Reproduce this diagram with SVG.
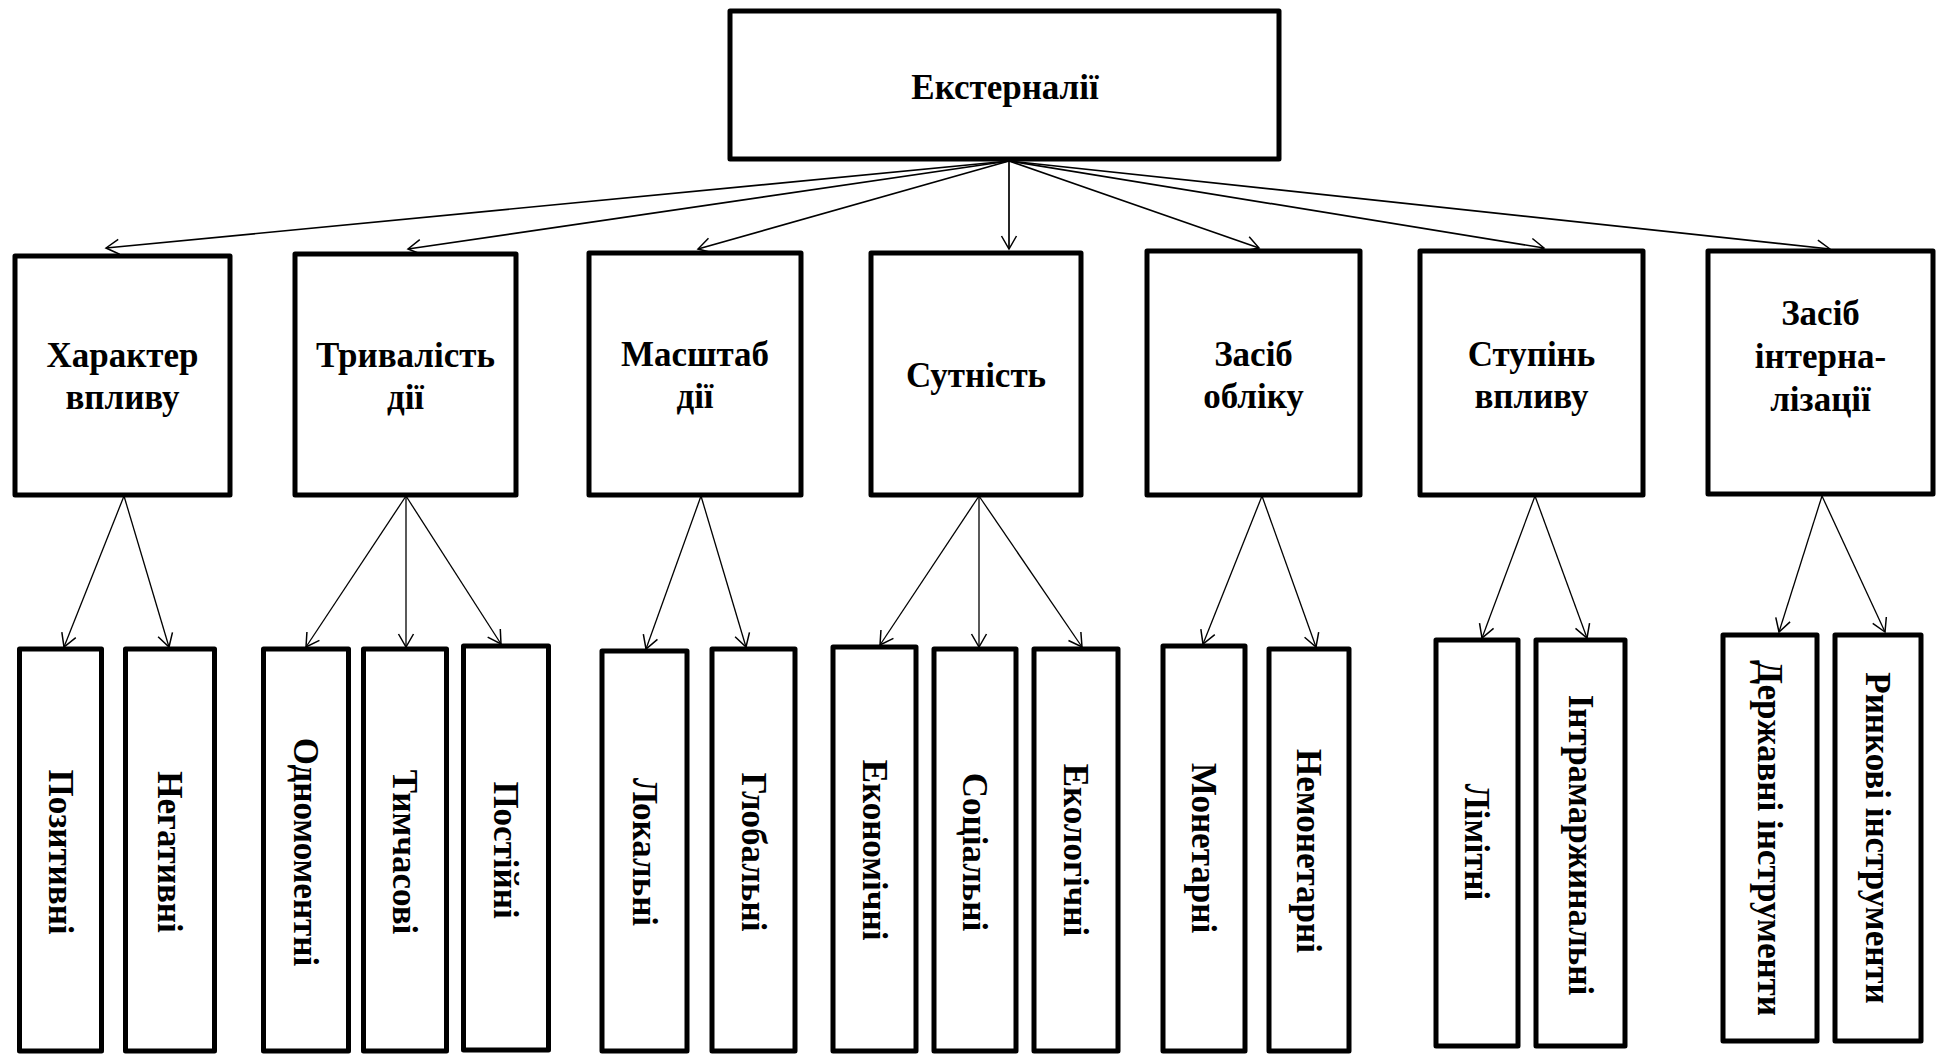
<svg xmlns="http://www.w3.org/2000/svg" width="1943" height="1055" viewBox="0 0 1943 1055">
<style>
.box{fill:#fff;stroke:#000;stroke-width:5;stroke-linejoin:round}
.t{font-family:"Liberation Serif","Times New Roman",serif;font-weight:bold;font-size:35px;text-anchor:middle;fill:#000}
.c1{stroke:#000;stroke-width:1.7;fill:none}
.c2{stroke:#000;stroke-width:1.3;fill:none}
</style>
<defs>
<marker id="ah" markerUnits="userSpaceOnUse" viewBox="-16 -10 18 20" markerWidth="18" markerHeight="20" refX="0" refY="0" orient="auto">
<path d="M-13,-7.5 L0,0 L-13,7.5" fill="none" stroke="#000" stroke-width="1.5"/>
</marker>
</defs>
<rect x="0" y="0" width="1943" height="1055" fill="#fff"/>

<g id="connectors">
<line class="c1" x1="1009" y1="161" x2="106" y2="248" marker-end="url(#ah)"/>
<line class="c1" x1="1009" y1="161" x2="408" y2="249" marker-end="url(#ah)"/>
<line class="c1" x1="1009" y1="161" x2="698" y2="249" marker-end="url(#ah)"/>
<line class="c1" x1="1009" y1="161" x2="1009" y2="249" marker-end="url(#ah)"/>
<line class="c1" x1="1009" y1="161" x2="1259" y2="248" marker-end="url(#ah)"/>
<line class="c1" x1="1009" y1="161" x2="1544" y2="248" marker-end="url(#ah)"/>
<line class="c1" x1="1009" y1="161" x2="1830" y2="249" marker-end="url(#ah)"/>

<line class="c2" x1="124" y1="496" x2="64" y2="647" marker-end="url(#ah)"/>
<line class="c2" x1="124" y1="496" x2="169" y2="647" marker-end="url(#ah)"/>

<line class="c2" x1="406" y1="496" x2="306" y2="647" marker-end="url(#ah)"/>
<line class="c2" x1="406" y1="496" x2="406" y2="647" marker-end="url(#ah)"/>
<line class="c2" x1="406" y1="496" x2="501" y2="644" marker-end="url(#ah)"/>

<line class="c2" x1="701" y1="496" x2="646" y2="649" marker-end="url(#ah)"/>
<line class="c2" x1="701" y1="496" x2="746" y2="647" marker-end="url(#ah)"/>

<line class="c2" x1="979" y1="496" x2="880" y2="645" marker-end="url(#ah)"/>
<line class="c2" x1="979" y1="496" x2="979" y2="647" marker-end="url(#ah)"/>
<line class="c2" x1="979" y1="496" x2="1082" y2="647" marker-end="url(#ah)"/>

<line class="c2" x1="1262" y1="496" x2="1203" y2="644" marker-end="url(#ah)"/>
<line class="c2" x1="1262" y1="496" x2="1316" y2="647" marker-end="url(#ah)"/>

<line class="c2" x1="1535" y1="496" x2="1482" y2="638" marker-end="url(#ah)"/>
<line class="c2" x1="1535" y1="496" x2="1587" y2="638" marker-end="url(#ah)"/>

<line class="c2" x1="1822" y1="496" x2="1779" y2="632" marker-end="url(#ah)"/>
<line class="c2" x1="1822" y1="496" x2="1885" y2="632" marker-end="url(#ah)"/>
</g>

<g id="n-root"><rect class="box" x="730" y="11" width="549" height="148"/><text class="t" x="1005" y="99">Екстерналії</text></g>

<g id="n-character"><rect class="box" x="15" y="256" width="215" height="239"/><text class="t" x="122.5" y="367">Характер</text><text class="t" x="122.5" y="409">впливу</text></g>
<g id="n-duration"><rect class="box" x="295" y="254" width="221" height="241"/><text class="t" x="405.5" y="367">Тривалість</text><text class="t" x="405.5" y="409">дії</text></g>
<g id="n-scale"><rect class="box" x="589" y="253" width="212" height="242"/><text class="t" x="695" y="366">Масштаб</text><text class="t" x="695" y="408">дії</text></g>
<g id="n-essence"><rect class="box" x="871" y="253" width="210" height="242"/><text class="t" x="976" y="387">Сутність</text></g>
<g id="n-accounting"><rect class="box" x="1147" y="251" width="213" height="244"/><text class="t" x="1253.5" y="366">Засіб</text><text class="t" x="1253.5" y="408">обліку</text></g>
<g id="n-degree"><rect class="box" x="1420" y="251" width="223" height="244"/><text class="t" x="1531.5" y="366">Ступінь</text><text class="t" x="1531.5" y="408">впливу</text></g>
<g id="n-internalization"><rect class="box" x="1708" y="251" width="225" height="243"/><text class="t" x="1820.5" y="325">Засіб</text><text class="t" x="1820.5" y="368">інтерна-</text><text class="t" x="1820.5" y="411">лізації</text></g>

<g id="n-positive"><rect class="box" x="19.5" y="649" width="82" height="402"/><text class="t" transform="translate(60.5,852) rotate(90)" x="0" y="12">Позитивні</text></g>
<g id="n-negative"><rect class="box" x="125.5" y="649" width="89" height="402"/><text class="t" transform="translate(170,852) rotate(90)" x="0" y="12">Негативні</text></g>
<g id="n-onetime"><rect class="box" x="263.5" y="649" width="85" height="402"/><text class="t" transform="translate(306,852) rotate(90)" x="0" y="12">Одномоментні</text></g>
<g id="n-temporary"><rect class="box" x="363.5" y="649" width="83" height="402"/><text class="t" transform="translate(405,852) rotate(90)" x="0" y="12">Тимчасові</text></g>
<g id="n-permanent"><rect class="box" x="463.5" y="646" width="85" height="404"/><text class="t" transform="translate(506,850) rotate(90)" x="0" y="12">Постійні</text></g>
<g id="n-local"><rect class="box" x="602" y="651" width="85" height="400"/><text class="t" transform="translate(644.5,852) rotate(90)" x="0" y="12">Локальні</text></g>
<g id="n-global"><rect class="box" x="712" y="649" width="83" height="402"/><text class="t" transform="translate(753.5,852) rotate(90)" x="0" y="12">Глобальні</text></g>
<g id="n-economic"><rect class="box" x="833" y="647" width="83" height="404"/><text class="t" transform="translate(874.5,850) rotate(90)" x="0" y="12">Економічні</text></g>
<g id="n-social"><rect class="box" x="934" y="649" width="82" height="402"/><text class="t" transform="translate(975,852) rotate(90)" x="0" y="12">Соціальні</text></g>
<g id="n-ecological"><rect class="box" x="1034" y="649" width="84" height="402"/><text class="t" transform="translate(1076,850) rotate(90)" x="0" y="12">Екологічні</text></g>
<g id="n-monetary"><rect class="box" x="1163" y="646" width="82" height="405"/><text class="t" transform="translate(1204,848) rotate(90)" x="0" y="12">Монетарні</text></g>
<g id="n-nonmonetary"><rect class="box" x="1269" y="649" width="80" height="402"/><text class="t" transform="translate(1309,851) rotate(90)" x="0" y="12">Немонетарні</text></g>
<g id="n-limit"><rect class="box" x="1436" y="640" width="82" height="406"/><text class="t" transform="translate(1477,842) rotate(90)" x="0" y="12">Лімітні</text></g>
<g id="n-intramarginal"><rect class="box" x="1536" y="640" width="89" height="406"/><text class="t" transform="translate(1580.5,845) rotate(90)" x="0" y="12">Інтрамаржинальні</text></g>
<g id="n-state"><rect class="box" x="1723" y="635" width="94" height="406"/><text class="t" transform="translate(1770,838) rotate(90)" x="0" y="12">Державні інструменти</text></g>
<g id="n-market"><rect class="box" x="1835" y="635" width="86" height="406"/><text class="t" transform="translate(1878,838) rotate(90)" x="0" y="12">Ринкові інструменти</text></g>
</svg>
